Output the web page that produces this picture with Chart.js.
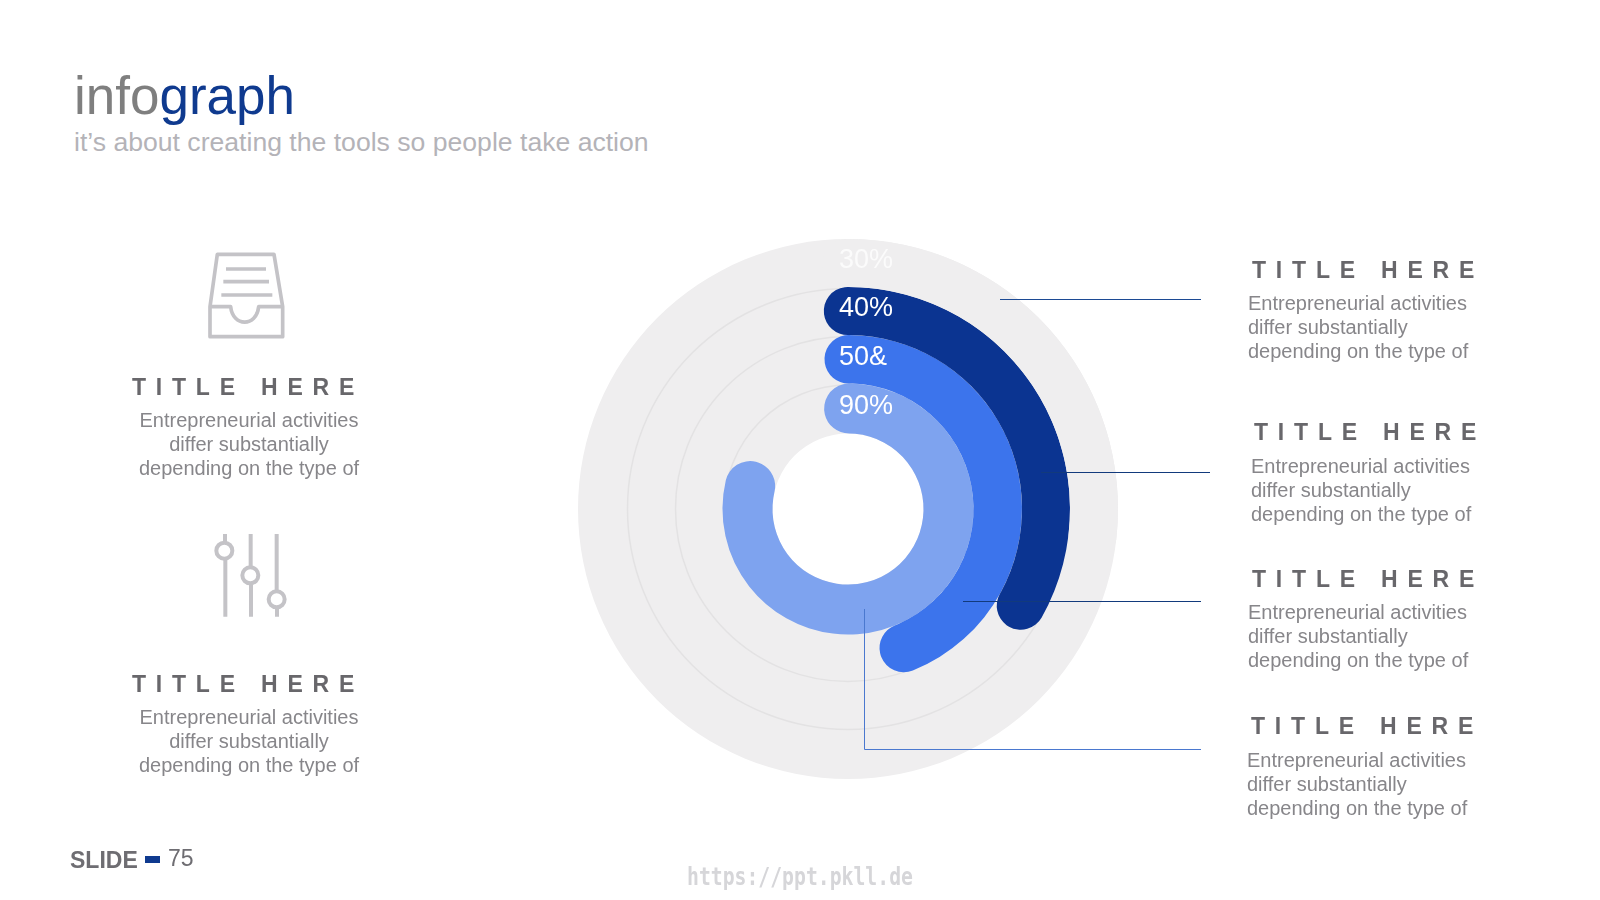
<!DOCTYPE html>
<html>
<head>
<meta charset="utf-8">
<title>infograph</title>
<script src="https://cdn.jsdelivr.net/npm/chart.js@4"></script>
<style>
  html, body { margin: 0; padding: 0; background: #fff; }
  body { position: relative; width: 1600px; height: 900px; overflow: hidden; font-family: "Liberation Sans", Arial, sans-serif; }
  .abs { position: absolute; white-space: nowrap; }
  #chart-box { position: absolute; left: 568px; top: 229px; width: 560px; height: 560px; }
  #overlay { position: absolute; left: 0; top: 0; }
  .h1 { left: 74px; top: 61px; font-size: 53px; line-height: 70px; color: #7f7f7f; }
  .h1 b { font-weight: normal; color: #0f3a8f; }
  .sub { left: 74px; top: 124px; font-size: 26.6px; line-height: 36px; color: #b4b3b8; }
  .title { font-size: 23px; font-weight: bold; letter-spacing: 9.8px; line-height: 28px; color: #68676b; }
  .body { font-size: 20px; line-height: 24px; color: #87868a; white-space: pre; }
  .center { transform: translateX(-50%); text-align: center; }
  .slide { left: 70px; top: 846px; font-size: 23px; font-weight: bold; line-height: 28px; color: #6e6d72; }
  .dash { position: absolute; left: 145px; top: 856px; width: 15px; height: 7px; background: #0f3a8f; }
  .num { left: 168px; top: 844px; font-size: 23px; line-height: 28px; color: #6e6d72; }
  .mark { left: 687px; top: 861px; font-family: "DejaVu Sans Mono", monospace; font-weight: bold; font-size: 25px; line-height: 32px; color: #d6d6d9; transform-origin: left top; transform: scaleX(0.79); }
</style>
</head>
<body>

<div class="abs h1">info<b>graph</b></div>
<div class="abs sub">it’s about creating the tools so people take action</div>

<!-- tray icon -->
<svg class="abs" style="left:120px;top:240px" width="260" height="260" viewBox="0 0 780 780" fill="none" stroke="#c4c3c7" stroke-width="11" stroke-linejoin="round">
  <path d="M270 200 L292 43 H462 L488 200 V290 H270 Z"/>
  <path d="M270 200 H332 C338 262 410 262 416 200 H488"/>
  <path d="M318 87 H438 M310 125 H447 M304 165 H457"/>
</svg>

<!-- sliders icon -->
<svg class="abs" style="left:120px;top:520px" width="260" height="260" viewBox="0 0 780 780" fill="none" stroke="#c4c3c7" stroke-width="12">
  <path d="M315 42 V68 M316 118 V290 M392 42 V140 M393 192 V290 M470 42 V212 M471 264 V290"/>
  <circle cx="313" cy="92" r="24"/>
  <circle cx="391" cy="166" r="24"/>
  <circle cx="470" cy="238" r="24"/>
</svg>

<div id="chart-box"><canvas id="rings" width="560" height="560"></canvas></div>

<svg id="overlay" width="1600" height="900" fill="none">
  <path d="M1000 299.5 H1201" stroke="#1c4a94" stroke-width="1"/>
  <path d="M1041 472.5 H1210" stroke="#123a7c" stroke-width="1"/>
  <path d="M963 601.5 H1201" stroke="#123a7c" stroke-width="1"/>
  <path d="M864.5 609 V749.5 H1201" stroke="#4a78cf" stroke-width="1"/>
</svg>

<div class="abs title center" style="left:248px;top:373px">TITLE HERE</div>
<div class="abs body center" style="left:249px;top:408px">Entrepreneurial activities
differ substantially
depending on the type of</div>

<div class="abs title center" style="left:248px;top:670px">TITLE HERE</div>
<div class="abs body center" style="left:249px;top:705px">Entrepreneurial activities
differ substantially
depending on the type of</div>

<div class="abs title" style="left:1252px;top:256px">TITLE HERE</div>
<div class="abs body" style="left:1248px;top:291px">Entrepreneurial activities
differ substantially
depending on the type of</div>

<div class="abs title" style="left:1254px;top:418px">TITLE HERE</div>
<div class="abs body" style="left:1251px;top:454px">Entrepreneurial activities
differ substantially
depending on the type of</div>

<div class="abs title" style="left:1252px;top:565px">TITLE HERE</div>
<div class="abs body" style="left:1248px;top:600px">Entrepreneurial activities
differ substantially
depending on the type of</div>

<div class="abs title" style="left:1251px;top:712px">TITLE HERE</div>
<div class="abs body" style="left:1247px;top:748px">Entrepreneurial activities
differ substantially
depending on the type of</div>

<div class="abs slide">SLIDE</div>
<div class="dash"></div>
<div class="abs num">75</div>
<div class="abs mark">https://ppt.pkll.de</div>

<script>
/* ================= DATA ================= */
const ringLabels = ["30%", "40%", "50&", "90%"];
const ringValues = [30, 37, 49, 86.4];
const ringColors = ["#efeeef", "#0b3491", "#3c74ec", "#7ea3ef"];
const ringTextColors = ["rgba(255,255,255,0.75)", "#ffffff", "#ffffff", "#ffffff"];
const ringRotations = [-6, -7, -9, -13.6];
const ringWeights = [48, 48, 48.5, 50];

const TRACK_COLOR = "#efeeef";
const TRACK_LINE = "#e3e2e3";

/* ================= PLUGINS ================= */
// grey disc and thin circles behind the arcs
const trackPlugin = {
  id: "track",
  beforeDatasetsDraw(chart) {
    const ctx = chart.ctx;
    const outer = chart.getDatasetMeta(0).data[0];
    ctx.save();
    ctx.fillStyle = TRACK_COLOR;
    ctx.beginPath();
    ctx.arc(outer.x, outer.y, outer.outerRadius, 0, Math.PI * 2);
    ctx.arc(outer.x, outer.y, chart.getDatasetMeta(3).data[0].innerRadius, 0, Math.PI * 2, true);
    ctx.fill();
    ctx.strokeStyle = TRACK_LINE;
    ctx.lineWidth = 1.5;
    [1, 2, 3].forEach(i => {
      const arc = chart.getDatasetMeta(i).data[0];
      ctx.beginPath();
      ctx.arc(arc.x, arc.y, arc.outerRadius - 1.5, 0, Math.PI * 2);
      ctx.stroke();
    });
    ctx.restore();
  }
};

// percentage text at the start of every ring
const labelPlugin = {
  id: "ringLabels",
  afterDatasetsDraw(chart) {
    const ctx = chart.ctx;
    ctx.save();
    ctx.font = '27px "Liberation Sans", Arial, sans-serif';
    ctx.textAlign = "left";
    ctx.textBaseline = "middle";
    ringLabels.forEach((label, i) => {
      const arc = chart.getDatasetMeta(i).data[0];
      const mid = (arc.outerRadius + arc.innerRadius) / 2;
      ctx.fillStyle = ringTextColors[i];
      ctx.fillText(label, arc.x - 9, arc.y - mid - 2);
    });
    ctx.restore();
  }
};

/* ================= CHART ================= */
new Chart(document.getElementById("rings").getContext("2d"), {
  type: "doughnut",
  data: {
    labels: ["value", "rest"],
    datasets: ringValues.map((v, i) => ({
      label: ringLabels[i],
      data: [v, 100 - v],
      backgroundColor: [ringColors[i], "rgba(0,0,0,0)"],
      rotation: ringRotations[i],
      weight: ringWeights[i],
      borderWidth: 0,
      borderRadius: 25
    }))
  },
  options: {
    responsive: false,
    animation: false,
    cutout: 75.5,
    layout: { padding: 10 },
    plugins: {
      legend: { display: false },
      tooltip: { enabled: false }
    }
  },
  plugins: [trackPlugin, labelPlugin]
});
</script>
</body>
</html>
